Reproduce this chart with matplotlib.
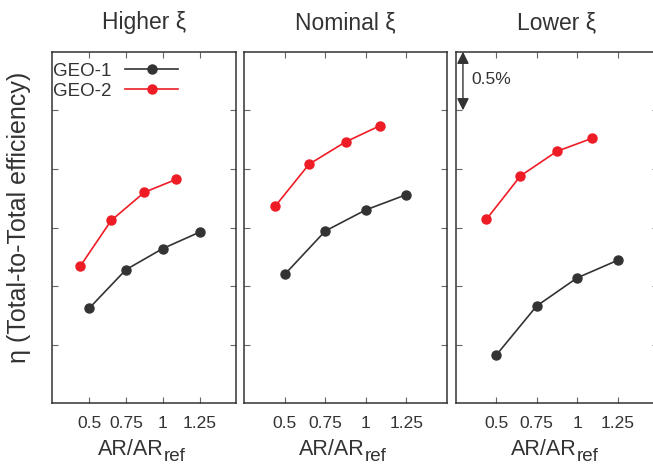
import matplotlib
matplotlib.use('Agg')
import matplotlib.pyplot as plt

plt.rcParams['font.family'] = ['Liberation Sans', 'DejaVu Sans']

# Data (efficiency offset in %, arbitrary base)
titles = ['Higher ξ', 'Nominal ξ', 'Lower ξ']
geo1_x = [0.5, 0.75, 1.0, 1.25]
geo2_x = [0.44, 0.65, 0.875, 1.09]
geo1_y = [[0.81, 1.14, 1.32, 1.46],
          [1.10, 1.47, 1.65, 1.78],
          [0.41, 0.83, 1.07, 1.22]]
geo2_y = [[1.17, 1.56, 1.80, 1.91],
          [1.68, 2.04, 2.23, 2.37],
          [1.57, 1.94, 2.15, 2.26]]
xticks = [0.5, 0.75, 1.0, 1.25]
xticklabels = ['0.5', '0.75', '1', '1.25']
yticks = [0.5, 1.0, 1.5, 2.0, 2.5]

dark = '#333333'
red = '#ee1c25'

fig = plt.figure(figsize=(6.53, 4.65), dpi=100)
bottom, height = 0.1327, 0.7561
lefts = [0.0801, 0.3741, 0.6978]
widths = [0.2818, 0.310, 0.310]

axes = []
for i in range(3):
    ax = fig.add_axes([lefts[i], bottom, widths[i], height])
    ax.plot(geo1_x, geo1_y[i], '-o', color=dark, lw=1.2, ms=6.5, label='GEO-1')
    ax.plot(geo2_x, geo2_y[i], '-o', color=red, lw=1.2, ms=6.5, label='GEO-2')
    ax.set_xlim(0.25, 1.5)
    ax.set_ylim(0, 3)
    ax.set_xticks(xticks)
    ax.set_xticklabels(xticklabels)
    ax.set_yticks(yticks)
    ax.set_yticklabels([])
    ax.tick_params(direction='in', top=True, right=True, length=4, width=0.8,
                   color='#666666', labelsize=12.5, labelcolor=dark, pad=9)
    for s in ax.spines.values():
        s.set_color(dark)
        s.set_linewidth(1.1)
    ax.set_title(titles[i], fontsize=16.5, color=dark, pad=16)
    # x label with a larger subscript than mathtext gives
    ax.annotate('AR/AR', xy=(0.5, 0), xycoords='axes fraction',
                xytext=(14, -37.5), textcoords='offset points',
                ha='right', va='baseline', fontsize=15.5, color=dark)
    ax.annotate('ref', xy=(0.5, 0), xycoords='axes fraction',
                xytext=(14, -41.5), textcoords='offset points',
                ha='left', va='baseline', fontsize=13.5, color=dark)
    axes.append(ax)

axes[0].set_ylabel('η (Total-to-Total efficiency)', fontsize=18, color=dark, labelpad=3)
axes[0].yaxis.set_label_coords(-0.115, 0.53)

leg = axes[0].legend(loc='upper left', bbox_to_anchor=(-0.035, 0.99), frameon=False,
                     markerfirst=False, handlelength=2.85, handletextpad=0.7,
                     fontsize=13.5, labelspacing=0.15, borderaxespad=0)
for t in leg.get_texts():
    t.set_color(dark)

# 0.5% scale arrow in the last panel
axes[2].annotate('', xy=(0.295, 2.5), xytext=(0.295, 3.0),
                 arrowprops=dict(arrowstyle='<|-|>', color=dark, lw=1.0,
                                 mutation_scale=18, shrinkA=0, shrinkB=0))
axes[2].text(0.35, 2.76, '0.5%', fontsize=12.5, color=dark, va='center')

fig.savefig('out.png', dpi=100)
